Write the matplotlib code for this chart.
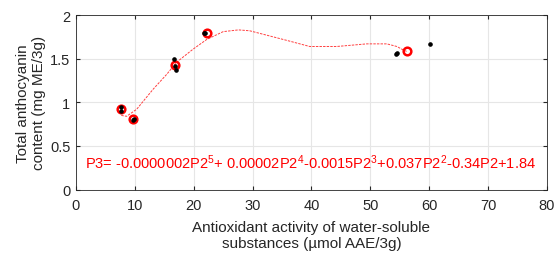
import matplotlib.pyplot as plt

plt.rcParams['font.family'] = ['Liberation Sans', 'DejaVu Sans']
plt.rcParams['mathtext.fontset'] = 'custom'
plt.rcParams['mathtext.rm'] = 'Liberation Sans'
plt.rcParams['mathtext.it'] = 'Liberation Sans'

# individual measurements (black dots)
x_raw = [7.7, 7.6, 9.7, 9.8, 16.6, 17.0, 16.9, 21.7, 22.0, 54.3, 54.6, 60.2]
y_raw = [0.95, 0.90, 0.80, 0.81, 1.50, 1.37, 1.42, 1.80, 1.80, 1.55, 1.56, 1.67]

# means (red circles)
x_mean = [7.6, 9.7, 16.9, 22.2, 56.3]
y_mean = [0.92, 0.81, 1.43, 1.80, 1.59]

# fitted curve
x_fit = [7.7, 8.6, 10.3, 13.1, 15.4, 17.1, 19.9, 22.2, 25.0, 27.6, 29.5,
         31.8, 35.8, 39.7, 44.3, 49.4, 52.8, 54.5, 55.6, 56.3]
y_fit = [0.85, 0.84, 0.92, 1.15, 1.32, 1.46, 1.61, 1.72, 1.81, 1.83, 1.82,
         1.78, 1.71, 1.64, 1.64, 1.67, 1.67, 1.64, 1.60, 1.58]

eq = ("P3= -0.0000002P2$^5$+ 0.00002P2$^4$-0.0015P2$^3$"
      "+0.037P2$^2$-0.34P2+1.84")

fig = plt.figure(figsize=(5.57, 2.55), dpi=100)
ax = fig.add_axes([0.1364, 0.2525, 0.8456, 0.6845])

ax.plot(x_fit, y_fit, '--', color='#ff4040', lw=0.7, dashes=(2.5, 1.2))
ax.plot(x_mean, y_mean, 'o', mfc='none', mec='red', mew=1.8, ms=5.5)
ax.plot(x_raw, y_raw, 'o', color='black', ms=2.3)

ax.text(1.6, 0.32, eq, color='red', fontsize=10.5, va='center')

ax.set_xlim(0, 80)
ax.set_ylim(0, 2)
ax.set_xticks(range(0, 81, 10))
ax.set_yticks([0, 0.5, 1, 1.5, 2])
ax.set_yticklabels(['0', '0.5', '1', '1.5', '2'])
ax.grid(color='#e6e6e6', lw=0.8)
ax.tick_params(top=True, right=True, direction='in', labelsize=10.5,
               colors='#262626', length=3, pad=4)
ax.tick_params(axis='x', pad=6)
for s in ax.spines.values():
    s.set_color('#262626')
    s.set_linewidth(0.6)

ax.set_xlabel("Antioxidant activity of water-soluble\nsubstances (\u00b5mol AAE/3g)",
              fontsize=11, color='#262626', labelpad=6)
ax.set_ylabel("Total anthocyanin\ncontent (mg ME/3g)",
              fontsize=11, color='#262626', labelpad=3)

fig.savefig('out.png', dpi=100)
